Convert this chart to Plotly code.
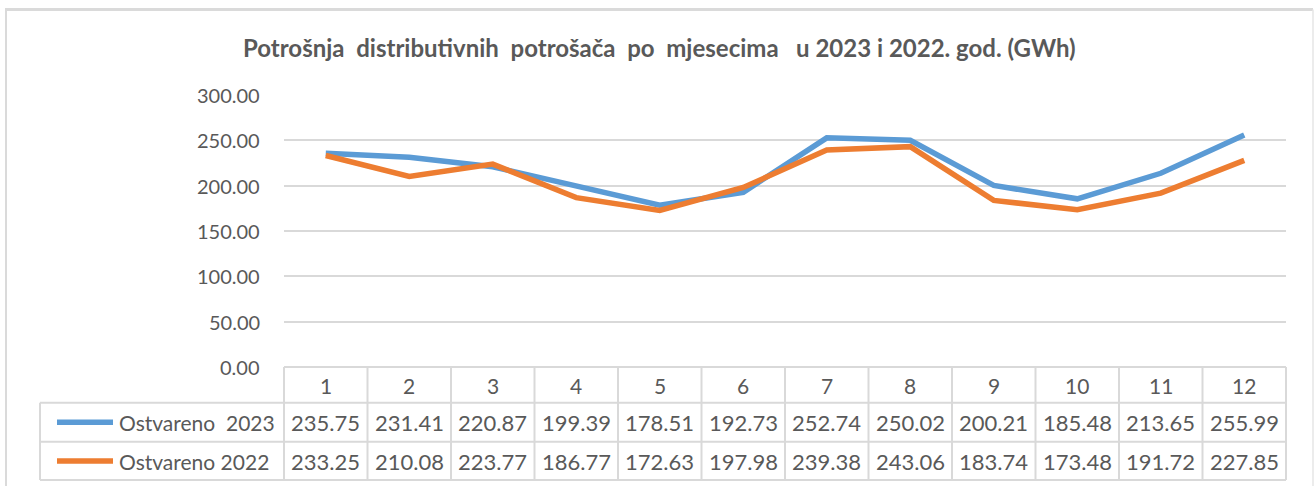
import plotly.graph_objects as go

# ---- data ----
months = list(range(1, 13))
ostvareno_2023 = [235.75, 231.41, 220.87, 199.39, 178.51, 192.73,
                  252.74, 250.02, 200.21, 185.48, 213.65, 255.99]
ostvareno_2022 = [233.25, 210.08, 223.77, 186.77, 172.63, 197.98,
                  239.38, 243.06, 183.74, 173.48, 191.72, 227.85]
series_names = ["Ostvareno  2023", "Ostvareno 2022"]
y_ticks = [0, 50, 100, 150, 200, 250, 300]
title_text = "Potrošnja  distributivnih  potrošača  po  mjesecima   u 2023 i 2022. god. (GWh)"

BLUE = "#5B9BD5"
ORANGE = "#ED7D31"
GRID = "#D9D9D9"
TXT = "#595959"
FONT = "Lato"

W, H = 1315, 486
L, R, T, B = 284, 1286, 95, 367   # plot area in pixels
PW, PH = R - L, B - T


def px(p):
    return (p - L) / PW


def py(p):
    return (B - p) / PH


fig = go.Figure()
fig.add_trace(go.Scatter(x=months, y=ostvareno_2023, mode="lines",
                         name=series_names[0],
                         line=dict(color=BLUE, width=5.5), showlegend=False))
fig.add_trace(go.Scatter(x=months, y=ostvareno_2022, mode="lines",
                         name=series_names[1],
                         line=dict(color=ORANGE, width=5.5), showlegend=False))

shapes = []
# outer frame
shapes.append(dict(type="line", xref="paper", yref="paper",
                   x0=px(5), x1=px(1313), y0=py(9.5), y1=py(9.5),
                   line=dict(color="#DADADA", width=3)))
shapes.append(dict(type="line", xref="paper", yref="paper",
                   x0=px(6), x1=px(6), y0=py(9.5), y1=py(490),
                   line=dict(color="#DADADA", width=2)))
shapes.append(dict(type="line", xref="paper", yref="paper",
                   x0=px(1313), x1=px(1313), y0=py(9.5), y1=py(490),
                   line=dict(color="#E6E6E6", width=1.5)))

# data table grid
row_tops = [367, 402.7, 441.7, 480]
leg_left = 40
for i, yp in enumerate(row_tops):
    x0 = 0 if i == 0 else px(leg_left)
    shapes.append(dict(type="line", xref="paper", yref="paper",
                       x0=x0, x1=1, y0=py(yp), y1=py(yp),
                       line=dict(color=GRID, width=2)))
n = len(months)
for k in range(n + 1):
    xp = k / n
    shapes.append(dict(type="line", xref="paper", yref="paper",
                       x0=xp, x1=xp, y0=py(367), y1=py(480),
                       line=dict(color=GRID, width=2)))
shapes.append(dict(type="line", xref="paper", yref="paper",
                   x0=px(leg_left), x1=px(leg_left), y0=py(402.7), y1=py(480),
                   line=dict(color=GRID, width=2)))

# legend keys
row_centers = [422.2, 461]
for colr, yc in zip([BLUE, ORANGE], row_centers):
    shapes.append(dict(type="line", xref="paper", yref="paper",
                       x0=px(57), x1=px(113), y0=py(yc), y1=py(yc),
                       line=dict(color=colr, width=5.5)))

annotations = []
# header row (category labels)
for m in months:
    annotations.append(dict(x=m, xref="x", y=py(385), yref="paper",
                            text=str(m), showarrow=False,
                            xanchor="center", yanchor="middle",
                            font=dict(family=FONT, size=21, color=TXT)))
# values
for vals, yc in zip([ostvareno_2023, ostvareno_2022], row_centers):
    for m, v in zip(months, vals):
        annotations.append(dict(x=m, xref="x", y=py(yc), yref="paper",
                                text=f"{v:.2f}", showarrow=False,
                                xanchor="center", yanchor="middle",
                                font=dict(family=FONT, size=22, color=TXT)))
# legend labels
for name, yc in zip(series_names, row_centers):
    annotations.append(dict(x=px(117), xref="paper", y=py(yc), yref="paper",
                            text=name, showarrow=False,
                            xanchor="left", yanchor="middle",
                            font=dict(family=FONT, size=21, color=TXT)))
# y tick labels
for t in y_ticks:
    annotations.append(dict(x=px(262), xref="paper", y=t, yref="y",
                            text=f"{t:.2f}", showarrow=False,
                            xanchor="right", yanchor="middle",
                            font=dict(family=FONT, size=20, color=TXT)))
# title
annotations.append(dict(x=px(659), xref="paper", y=py(48), yref="paper",
                        text="<b>" + title_text + "</b>", showarrow=False,
                        xanchor="center", yanchor="middle",
                        font=dict(family=FONT, size=24, color=TXT)))

fig.update_layout(
    width=W, height=H,
    margin=dict(l=L, r=W - R, t=T, b=H - B, pad=0),
    paper_bgcolor="white", plot_bgcolor="white",
    shapes=shapes, annotations=annotations,
    xaxis=dict(range=[0.5, 12.5], showgrid=False, zeroline=False,
               showticklabels=False, ticks="", showline=False, fixedrange=True),
    yaxis=dict(range=[0, 300], tickvals=y_ticks, showticklabels=False,
               showgrid=True, gridcolor=GRID, gridwidth=2, zeroline=False,
               ticks="", showline=False, fixedrange=True),
)

fig.write_html("out.html",
               config={"displayModeBar": False},
               post_script="document.body.style.margin='0';document.body.style.overflow='hidden';")
